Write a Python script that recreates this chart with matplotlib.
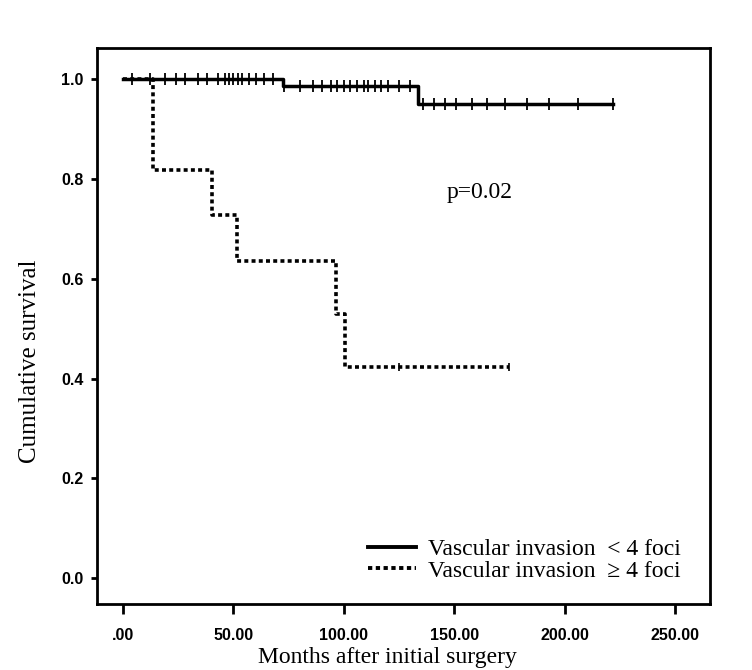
import numpy as np
import matplotlib
matplotlib.use('Agg')
import matplotlib.pyplot as plt
from matplotlib.lines import Line2D

# Kaplan-Meier steps
low_time = [0, 72.5, 133.5, 222]
low_surv = [1.0, 0.986, 0.950, 0.950]
low_cens_t = [4, 12, 19, 24, 28, 34, 38, 43, 46, 48, 50, 52, 54, 57, 60, 64, 68, 73,
              80, 86, 90, 94, 97, 100, 103, 106, 109, 111, 114, 117, 120, 125, 130,
              136, 141, 146, 151, 158, 165, 173, 183, 193, 206, 222]

high_time = [0, 13.5, 40.5, 51.5, 96.5, 100.5, 175]
high_surv = [1.0, 0.818, 0.727, 0.636, 0.530, 0.424, 0.424]
high_cens_t = [125, 175]

x_ticks = [0, 50, 100, 150, 200, 250]
x_labels = ['.00', '50.00', '100.00', '150.00', '200.00', '250.00']
y_ticks = [0.0, 0.2, 0.4, 0.6, 0.8, 1.0]
y_labels = ['0.0', '0.2', '0.4', '0.6', '0.8', '1.0']


def surv_at(times, surv, t):
    idx = np.searchsorted(times, t, side='right') - 1
    return np.array(surv)[idx]


fig = plt.figure(figsize=(7.52, 6.7), dpi=100)
ax = fig.add_axes([0.129, 0.0985, 0.815, 0.8295])

ax.step(low_time, low_surv, where='post', color='black', lw=2.5)
ax.plot(low_cens_t, surv_at(low_time, low_surv, low_cens_t), linestyle='none',
        marker='|', color='black', ms=8, mew=1.3)

ax.step(high_time, high_surv, where='post', color='black', lw=2.6,
        linestyle=(0, (1.1, 0.9)))
ax.plot(high_cens_t, surv_at(high_time, high_surv, high_cens_t), linestyle='none',
        marker='|', color='black', ms=6, mew=1.2)

ax.set_xlim(-11.8, 265.8)
ax.set_ylim(-0.052, 1.062)
ax.set_xticks(x_ticks)
ax.set_xticklabels(x_labels)
ax.set_yticks(y_ticks)
ax.set_yticklabels(y_labels)

for s in ax.spines.values():
    s.set_linewidth(2)
ax.tick_params(axis='x', direction='out', length=7, width=2, pad=10)
ax.tick_params(axis='y', direction='out', length=4.5, width=2, pad=5)
for lab in ax.get_xticklabels() + ax.get_yticklabels():
    lab.set_fontfamily('Liberation Sans')
    lab.set_fontsize(11.5)
    lab.set_fontweight('bold')

ax.set_xlabel('Months after initial surgery', family='Liberation Serif', fontsize=17, va='center')
ax.xaxis.set_label_coords(0.474, -0.097)
ax.set_ylabel('Cumulative survival', family='Liberation Serif', fontsize=18, va='center')
ax.yaxis.set_label_coords(-0.109, 0.437)

ax.text(0.571, 0.741, 'p=0.02', transform=ax.transAxes, family='Liberation Serif',
        fontsize=17, va='center')

handles = [Line2D([], [], color='black', lw=2.8),
           Line2D([], [], color='black', lw=2.8, linestyle=(0, (1.1, 0.9)))]
leg = ax.legend(handles, ['Vascular invasion  < 4 foci', 'Vascular invasion  \u2265 4 foci'],
                loc='lower right', bbox_to_anchor=(0.975, 0.015), frameon=False,
                prop={'family': 'Liberation Serif', 'size': 17},
                handlelength=2.0, handletextpad=0.5, labelspacing=0.0, borderaxespad=0.2)

fig.savefig('out.png', dpi=100)
